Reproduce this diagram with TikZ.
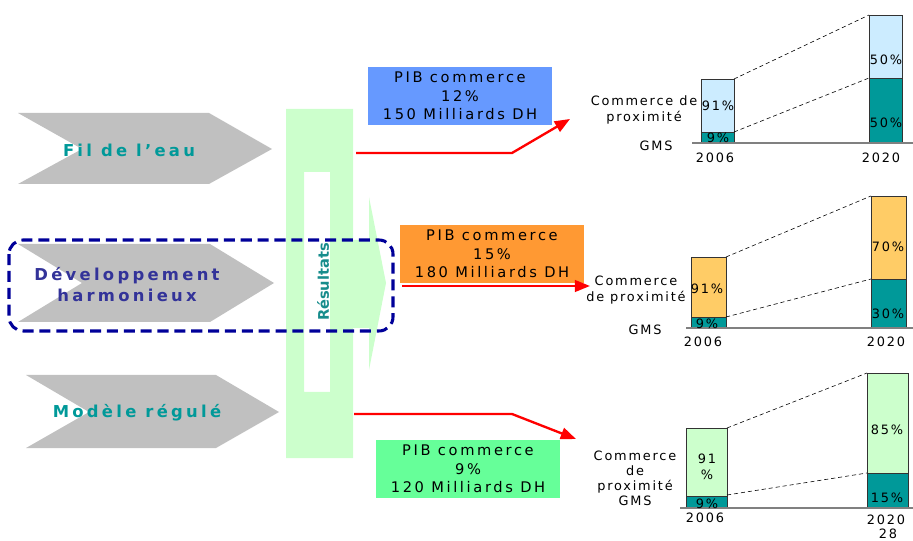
\documentclass[tikz,border=0pt]{standalone}
\usepackage{fontspec}
\setmainfont{DejaVu Sans}
\newfontfamily\boxfont{DejaVu Sans}[LetterSpace=18]
\newfontfamily\chevfont{DejaVu Sans}[LetterSpace=20]
\newfontfamily\chartfont{DejaVu Sans}[LetterSpace=14]
\usetikzlibrary{arrows.meta}
% colours of the scenario slide
\definecolor{chevgray}{HTML}{C0C0C0}
\definecolor{tealtxt}{HTML}{009999}
\definecolor{restxt}{HTML}{178C8C}
\definecolor{navytxt}{HTML}{333399}
\definecolor{navydash}{HTML}{000099}
\definecolor{resgreen}{HTML}{CCFFCC}
\definecolor{pibblue}{HTML}{6699FF}
\definecolor{piborange}{HTML}{FF9933}
\definecolor{pibgreen}{HTML}{66FF99}
\definecolor{proxblue}{HTML}{CCECFF}
\definecolor{proxorange}{HTML}{FFCC66}
\definecolor{proxgreen}{HTML}{CCFFCC}
\definecolor{gmsteal}{HTML}{009999}

\begin{document}
\begin{tikzpicture}[x=0.03cm,y=-0.03cm,
    chevron/.style={fill=chevgray},
    chevlabel/.style={font=\chevfont\bfseries\fontsize{14}{17.9}\selectfont, align=center, inner sep=0pt},
    pib/.style={font=\boxfont\fontsize{12.5}{15.7}\selectfont, align=center, inner sep=0pt,
        minimum width=5.52cm, minimum height=1.74cm},
    flow/.style={red, line width=2pt, -{Triangle[length=13pt,width=10pt]}},
    bar/.style={draw=black!80, line width=0.6pt},
    axis/.style={draw=black!50, line width=1.2pt},
    guide/.style={dashed, black, line width=0.5pt, dash pattern=on 3.5pt off 2.5pt},
    chartlabel/.style={font=\chartfont\fontsize{11}{13.4}\selectfont, align=center, inner sep=0pt},
    dashbox/.style={draw=navydash, line width=2.6pt, dash pattern=on 9.4pt off 5pt, rounded corners=12pt}]
  \useasboundingbox (0,0) rectangle (913,541);

  % the three scenarios
  \fill[chevron] (18,113) -- (209,113) -- (272,149) -- (209,184) -- (18,184) -- (82,149) -- cycle;
  \fill[chevron] (18,244) -- (210,244) -- (274,283) -- (210,322) -- (18,322) -- (82,283) -- cycle;
  \fill[chevron] (26,375) -- (216,375) -- (279,412) -- (216,448) -- (26,448) -- (89,412) -- cycle;
  \node[chevlabel, text=tealtxt] (fil) at (129,150) {Fil de l’eau};
  \node[chevlabel, text=navytxt] (dev) at (127,285) {Développement\\harmonieux};
  \node[chevlabel, text=tealtxt] (reg) at (137,413) {Modèle régulé};

  % results block
  \fill[resgreen, even odd rule] (286,109) rectangle (353,458) (304,172) rectangle (330,392);
  \fill[resgreen] (353,240) -- (369,240) -- (369,197) -- (386,283) -- (369,370) -- (369,328) -- (353,328) -- cycle;
  \node[rotate=90, text=restxt, font=\bfseries\fontsize{12.5}{14}\selectfont, inner sep=0pt] (res) at (323,282) {Résultats};

  \draw[dashbox] (9,240) rectangle (393,331);

  % PIB boxes
  \node[pib, fill=pibblue] (pib1) at (460,96) {PIB commerce\\12\%\\150 Milliards DH};
  \node[pib, fill=piborange] (pib2) at (492,254) {PIB commerce\\15\%\\180 Milliards DH};
  \node[pib, fill=pibgreen] (pib3) at (468,469) {PIB commerce\\9\%\\120 Milliards DH};

  % arrows towards the charts
  \coordinate (out1) at (356,153);
  \coordinate (bend1) at (512,153);
  \coordinate (end1) at (570,119);
  \coordinate (out2) at (402,286);
  \coordinate (end2) at (590,286);
  \coordinate (out3) at (354,414);
  \coordinate (bend3) at (512,414);
  \coordinate (end3) at (576,439);
  \draw[flow] (out1) -- (bend1) -- (end1);
  \draw[flow] (out2) -- (end2);
  \draw[flow] (out3) -- (bend3) -- (end3);

  % chart 1
  \filldraw[bar, fill=proxblue] (701,79) rectangle (734,132);
  \filldraw[bar, fill=gmsteal] (701,132) rectangle (734,143);
  \filldraw[bar, fill=proxblue] (869,15) rectangle (902,78);
  \filldraw[bar, fill=gmsteal] (869,78) rectangle (902,143);
  \draw[axis] (692,143) -- (913,143);
  \draw[guide] (734,79) -- (869,15) (734,132) -- (869,78);
  \node[chartlabel] (prox1) at (644,110) {Commerce de\\proximité};
  \node[chartlabel] (gms1) at (656,146) {GMS};
  \node[chartlabel] (p061) at (718,106) {91\%};
  \node[chartlabel] (g061) at (718,138) {9\%};
  \node[chartlabel] (p201) at (886,60) {50\%};
  \node[chartlabel] (g201) at (886,123) {50\%};
  \node[chartlabel] (y061) at (715,158) {2006};
  \node[chartlabel] (y201) at (881,158) {2020};

  % chart 2
  \filldraw[bar, fill=proxorange] (691,257) rectangle (726,317);
  \filldraw[bar, fill=gmsteal] (691,317) rectangle (726,328);
  \filldraw[bar, fill=proxorange] (871,196) rectangle (906,279);
  \filldraw[bar, fill=gmsteal] (871,279) rectangle (906,328);
  \draw[axis] (686,328) -- (913,328);
  \draw[guide] (726,257) -- (871,196) (726,317) -- (871,279);
  \node[chartlabel] (prox2) at (636,290) {Commerce\\de proximité};
  \node[chartlabel] (gms2) at (645,330) {GMS};
  \node[chartlabel] (p062) at (707,289) {91\%};
  \node[chartlabel] (g062) at (707,324) {9\%};
  \node[chartlabel] (p202) at (888,247) {70\%};
  \node[chartlabel] (g202) at (888,314) {30\%};
  \node[chartlabel] (y062) at (703,342) {2006};
  \node[chartlabel] (y202) at (886,342) {2020};

  % chart 3
  \filldraw[bar, fill=proxgreen] (686,428) rectangle (727,496);
  \filldraw[bar, fill=gmsteal] (686,496) rectangle (727,508);
  \filldraw[bar, fill=proxgreen] (867,373) rectangle (908,473);
  \filldraw[bar, fill=gmsteal] (867,473) rectangle (908,508);
  \draw[axis] (680,508) -- (913,508);
  \draw[guide] (727,428) -- (867,373) (727,495) -- (867,473);
  \node[chartlabel, font=\chartfont\fontsize{11}{12.8}\selectfont] (prox3) at (635,472) {Commerce\\de\\proximité};
  \node[chartlabel] (gms3) at (635,501) {GMS};
  \node[chartlabel] (p063) at (707,467) {91\\\%};
  \node[chartlabel] (g063) at (707,504) {9\%};
  \node[chartlabel] (p203) at (887,430) {85\%};
  \node[chartlabel] (g203) at (887,498) {15\%};
  \node[chartlabel] (y063) at (705,518) {2006};
  \node[chartlabel] (y203) at (886,520) {2020};
  \node[chartlabel] (page) at (888,534) {28};
\end{tikzpicture}
\end{document}
